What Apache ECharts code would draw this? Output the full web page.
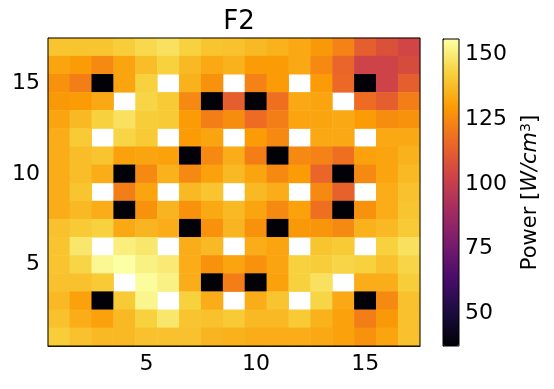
<!DOCTYPE html>
<html>
<head>
<meta charset="utf-8">
<script src="https://cdn.jsdelivr.net/npm/echarts@6/dist/echarts.min.js"></script>
<style>html,body{margin:0;padding:0;background:#fff}#c{width:554px;height:389px}</style>
</head>
<body>
<div id="c"></div>
<script>
const xLabels = ['1','2','3','4','5','6','7','8','9','10','11','12','13','14','15','16','17'];
const yLabels = ['1','2','3','4','5','6','7','8','9','10','11','12','13','14','15','16','17'];
const cbTicks = [50, 75, 100, 125, 150];
const cMin = 37.4, cMax = 156;
// rows from top (y=17) to bottom (y=1); null = no data (white)
const power = [
 [140,140,140,142,145,147,143,140,139,137,135,133,129,123,113,108,104],
 [132,130,125,132,138,143,137,133,135,130,130,133,125,115,103,103,106],
 [127,122,38,132,143,null,135,127,null,123,130,null,130,116,38,103,113],
 [129,130,133,null,144,141,125,38,113,38,118,133,132,null,117,113,122],
 [132,137,143,147,142,141,130,122,126,117,122,132,132,133,130,126,127],
 [134,141,null,144,141,null,130,132,null,130,125,null,133,133,null,133,133],
 [134,138,140,131,132,131,38,125,134,122,38,125,123,118,131,132,135],
 [134,138,134,38,125,135,125,131,137,132,125,130,115,38,125,132,137],
 [134,140,null,122,132,null,137,140,null,137,134,null,125,114,null,134,139],
 [134,137,134,38,127,136,127,133,137,132,125,131,118,38,127,134,140],
 [139,141,143,133,136,134,38,127,136,127,38,129,128,125,135,137,141],
 [140,149,null,151,149,null,134,137,null,134,132,null,140,141,null,143,147],
 [140,144,154,156,152,150,134,127,132,127,132,143,142,144,143,139,144],
 [139,139,141,null,155,152,134,38,122,38,131,143,147,null,134,134,142],
 [137,131,38,141,153,null,143,134,null,134,140,null,144,133,38,125,139],
 [139,134,131,137,143,149,140,139,141,137,137,141,135,131,122,129,139],
 [142,139,137,137,139,139,139,136,135,134,134,134,133,131,127,132,139]
];
const inferno = ['#000004','#1b0c41','#4a0c6b','#781c6d','#a52c60','#cf4446','#ed6925','#fb9b06','#f7d13d','#fcffa4'];

const data = [];
power.forEach((row, r) => row.forEach((v, c) => {
  if (v !== null) data.push([c, power.length - 1 - r, v]);
}));
const every5 = (i) => (i + 1) % 5 === 0;
const font = 'DejaVu Sans';

const chart = echarts.init(document.getElementById('c'), null, {renderer: 'canvas'});
chart.setOption({
  backgroundColor: '#fff',
  animation: false,
  title: {
    text: 'F2', left: 234, top: 4, textAlign: 'center',
    textStyle: {fontFamily: font, fontSize: 26, fontWeight: 'normal', color: '#000'}
  },
  grid: [
    {left: 48, top: 38, width: 372, height: 308, show: true, borderColor: '#000', borderWidth: 1, z: 10},
    {left: 443, top: 39, width: 16, height: 307, show: true, borderColor: '#000', borderWidth: 1, z: 10}
  ],
  xAxis: [
    {type: 'category', data: xLabels, gridIndex: 0,
     axisLine: {lineStyle: {color: '#000', width: 1}},
     axisTick: {interval: every5, alignWithLabel: true, length: 5, lineStyle: {color: '#000'}},
     axisLabel: {interval: every5, fontFamily: font, fontSize: 22, color: '#000', margin: 7},
     splitLine: {show: false}},
    {type: 'value', gridIndex: 1, show: false, min: 0, max: 1}
  ],
  yAxis: [
    {type: 'category', data: yLabels, gridIndex: 0,
     axisLine: {lineStyle: {color: '#000', width: 1}},
     axisTick: {interval: every5, alignWithLabel: true, length: 5, lineStyle: {color: '#000'}},
     axisLabel: {interval: every5, fontFamily: font, fontSize: 22, color: '#000', margin: 8},
     splitLine: {show: false}},
    {type: 'value', gridIndex: 1, position: 'right', min: cMin, max: cMax,
     axisLine: {show: true, lineStyle: {color: '#000', width: 1}},
     axisTick: {show: true, length: 4, customValues: cbTicks, lineStyle: {color: '#000'}},
     axisLabel: {customValues: cbTicks, fontFamily: font, fontSize: 22, color: '#000', margin: 6},
     splitLine: {show: false},
     name: '{a|Power [}{b|W/cm}{c|3}{a|]}', nameLocation: 'middle', nameGap: 60, nameRotate: 90,
     nameTextStyle: {fontFamily: font, fontSize: 21, color: '#000',
       rich: {a: {fontFamily: font, fontSize: 21, color: '#000'},
              b: {fontFamily: font, fontSize: 21, color: '#000', fontStyle: 'italic'},
              c: {fontFamily: font, fontSize: 14, color: '#000', verticalAlign: 'top', padding: [0,0,10,0]}}}}
  ],
  visualMap: {
    type: 'continuous', seriesIndex: 0, min: cMin, max: cMax, calculable: false,
    orient: 'vertical', left: 443, top: 39, itemWidth: 16, itemHeight: 307,
    padding: 0, text: null, showLabel: false, hoverLink: false,
    inRange: {color: inferno}
  },
  series: [{
    type: 'heatmap', xAxisIndex: 0, yAxisIndex: 0, data: data,
    itemStyle: {borderWidth: 0}, emphasis: {disabled: true}, progressive: 0
  }]
});
</script>
</body>
</html>
